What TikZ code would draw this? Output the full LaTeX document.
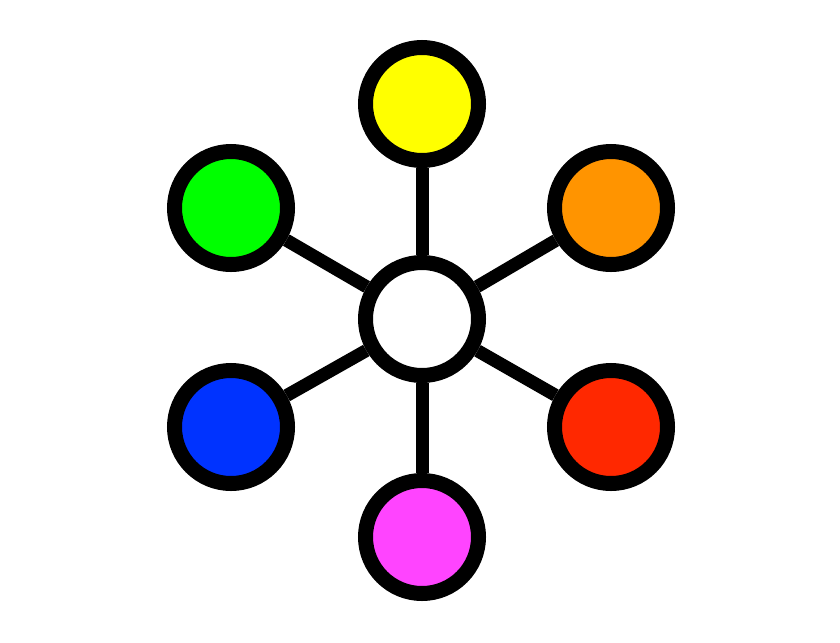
\documentclass[tikz,border=0pt]{standalone}
\usepackage{tikz}
\usetikzlibrary{positioning}

\definecolor{hubyellow}{RGB}{255,255,0}
\definecolor{hubgreen}{RGB}{0,255,0}
\definecolor{huborange}{RGB}{255,148,0}
\definecolor{hubblue}{RGB}{0,51,255}
\definecolor{hubred}{RGB}{255,40,0}
\definecolor{hubmagenta}{RGB}{255,68,255}

\begin{document}
\begin{tikzpicture}[x=0.03cm, y=-0.03cm,
    ball/.style={circle, draw=black, line width=0.45cm, minimum size=3.39cm, inner sep=0pt},
    spoke/.style={draw=black, line width=0.39cm}]
                                \useasboundingbox (0, 0) rectangle (840, 642);
                                \node[ball, fill=white] (hub) at (422, 319) {};
                                \node[ball, fill=hubyellow] (yel) at (422, 104) {};
                                \node[ball, fill=hubgreen] (grn) at (231, 208) {};
                                \node[ball, fill=huborange] (org) at (611, 208) {};
                                \node[ball, fill=hubblue] (blu) at (231, 427) {};
                                \node[ball, fill=hubred] (red) at (611, 427) {};
                                \node[ball, fill=hubmagenta] (mag) at (422, 537) {};

                                \draw[spoke]
                                (hub) edge (yel)
                                (hub) edge (grn)
                                (hub) edge (org)
                                (hub) edge (blu)
                                (hub) edge (red)
                                (hub) edge (mag);
                            \end{tikzpicture}
\end{document}
